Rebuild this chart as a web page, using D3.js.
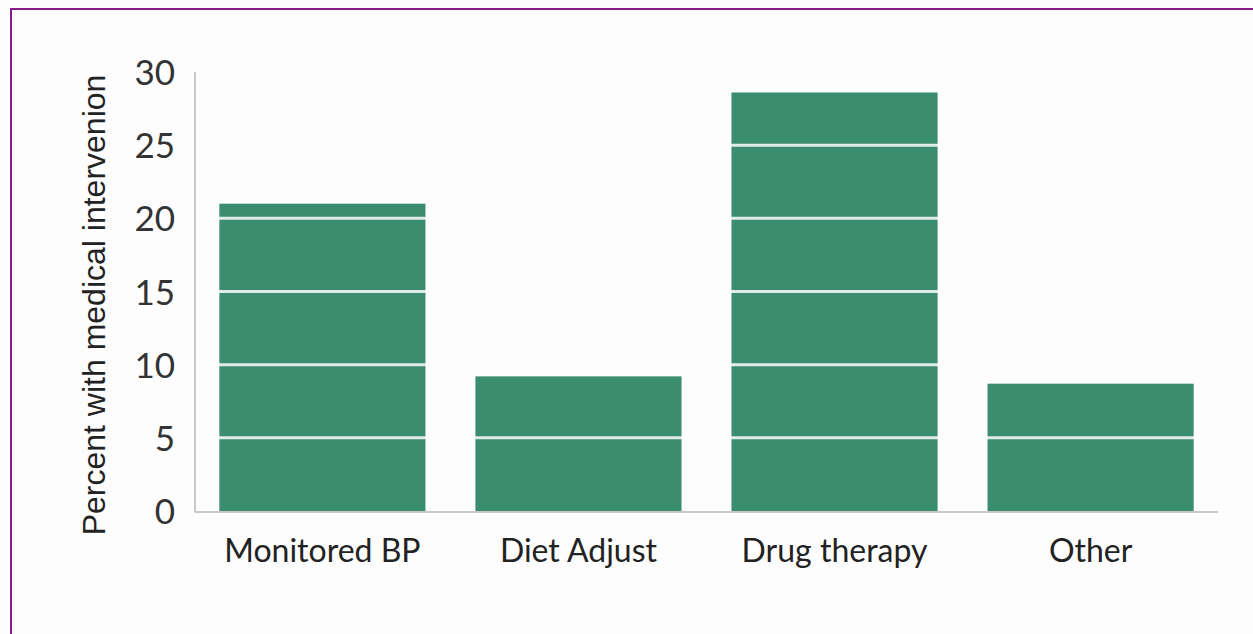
<!DOCTYPE html>
<html><head><meta charset="utf-8">
<script src="https://cdn.jsdelivr.net/npm/d3@7"></script>
<style>body{margin:0;background:#fdfdfd;}svg{display:block;}</style>
</head><body>
<script>
const categories = ["Monitored BP", "Diet Adjust", "Drug therapy", "Other"];
const values = [21.0, 9.2, 28.6, 8.7];
const yTicks = [0, 5, 10, 15, 20, 25, 30];
const yTitle = "Percent with medical intervenion";

(function () {
const W = 1253, H = 634;
const svg = d3.select("body").append("svg").attr("width", W).attr("height", H);
svg.append("rect").attr("width", W).attr("height", H).attr("fill", "#fdfdfd");
// frame (top/left visible)
svg.append("rect").attr("x", 11).attr("y", 9).attr("width", W).attr("height", H)
  .attr("fill", "none").attr("stroke", "#8a1a8a").attr("stroke-width", 2);

const mLeft = 195, mRight = 1218, mTop = 72, mBottom = 511;
const x = d3.scaleBand().domain(categories).range([mLeft, mRight]).paddingInner(0.195).paddingOuter(0.095);
const y = d3.scaleLinear().domain([0, 30]).range([mBottom, mTop]);

// bars
svg.selectAll("rect.bar").data(values).join("rect").attr("class", "bar")
  .attr("x", (d, i) => x(categories[i])).attr("width", x.bandwidth())
  .attr("y", d => y(d)).attr("height", d => y(0) - y(d))
  .attr("fill", "#3a8d6e");

// gridlines in background colour (visible only across bars)
svg.selectAll("line.grid").data(yTicks.filter(t => t > 0)).join("line").attr("class", "grid")
  .attr("x1", mLeft + 2).attr("x2", mRight).attr("y1", d => y(d)).attr("y2", d => y(d))
  .attr("stroke", "#f4f9f7").attr("stroke-width", 3);
svg.selectAll("line.grid").attr("stroke", "#fdfdfd").attr("stroke-opacity", 0.85);

// axes lines
svg.append("line").attr("x1", mLeft).attr("x2", mLeft).attr("y1", mTop).attr("y2", mBottom + 1)
  .attr("stroke", "#c8c8c8").attr("stroke-width", 2);
svg.append("line").attr("x1", mLeft).attr("x2", mRight).attr("y1", mBottom + 1).attr("y2", mBottom + 1)
  .attr("stroke", "#c8c8c8").attr("stroke-width", 2);

// y tick labels
const yAxis = d3.axisLeft(y).tickValues(yTicks).tickSize(0).tickPadding(20);
const gy = svg.append("g").attr("transform", `translate(${mLeft},0)`).call(yAxis);
gy.select(".domain").remove();
gy.selectAll("text").attr("font-family", "Lato, 'Liberation Sans', sans-serif")
  .attr("font-size", 35).attr("fill", "#333").attr("dy", "0.36em");

// x tick labels
const xAxis = d3.axisBottom(x).tickSize(0).tickPadding(28);
const gx = svg.append("g").attr("transform", `translate(0,${mBottom})`).call(xAxis);
gx.select(".domain").remove();
gx.selectAll("text").attr("font-family", "Lato, 'Liberation Sans', sans-serif")
  .attr("font-size", 32).attr("fill", "#222");

// y title
svg.append("text").attr("transform", `translate(105,305) rotate(-90)`)
  .attr("text-anchor", "middle").attr("font-family", "'Liberation Sans', Arial, sans-serif")
  .attr("font-size", 32).attr("fill", "#222").text(yTitle);
})();
</script>
</body></html>
